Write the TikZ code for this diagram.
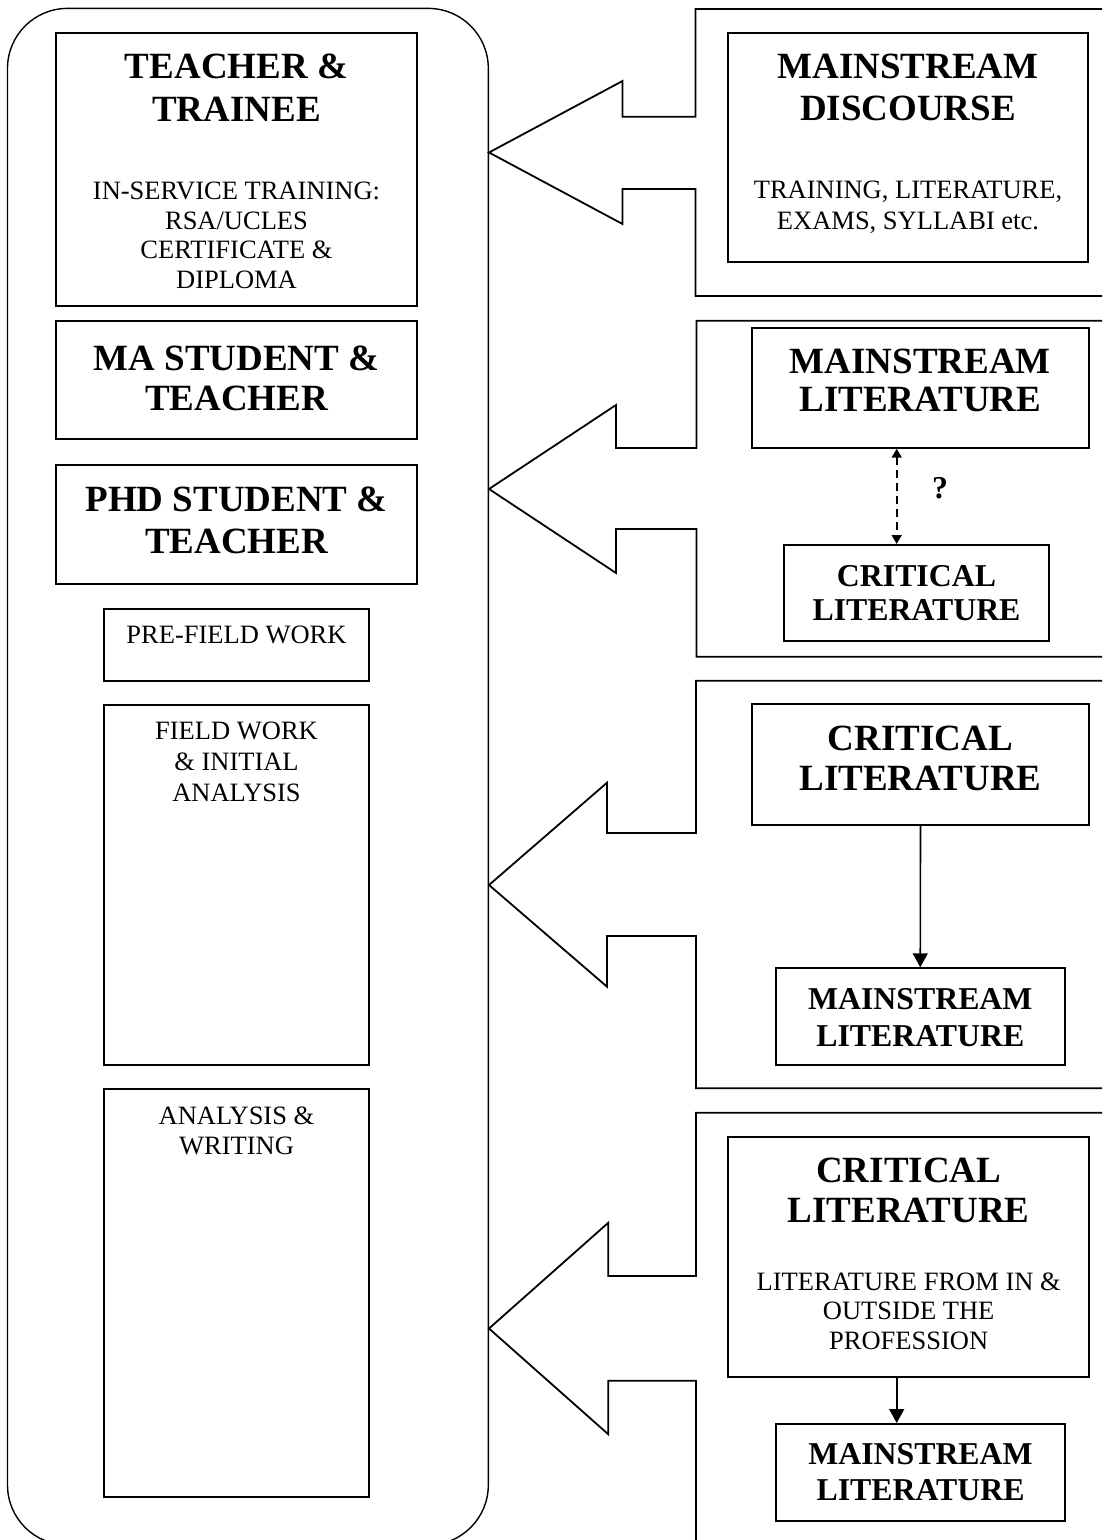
\documentclass[tikz,border=0pt]{standalone}
\usepackage{fontspec}
\setmainfont{Liberation Serif}
\usetikzlibrary{arrows.meta,fit}
\begin{document}
\begin{tikzpicture}[x=0.5pt,y=-0.5pt,
  box/.style={draw, line width=1pt, inner sep=0pt},
  callout/.style={draw, line width=0.9pt, line join=miter},
  bigb/.style={align=center, inner sep=0pt, font=\bfseries\fontsize{18.5pt}{#1}\selectfont},
  bigb/.default=21pt,
  smallb/.style={align=center, inner sep=0pt, font=\bfseries\fontsize{15.9pt}{#1}\selectfont},
  smallb/.default=18pt,
  plain/.style={align=center, inner sep=0pt, font=\fontsize{13.25pt}{#1}\selectfont},
  plain/.default=14.75pt,
  link/.style={line width=0.8pt, -{Triangle[length=7pt,width=7.5pt]}},
  dlink/.style={line width=0.8pt, dash pattern=on 4pt off 2.5pt,
    {Triangle[length=4.5pt,width=5pt]}-{Triangle[length=4.5pt,width=5pt]}}
]
\useasboundingbox (0,0) rectangle (1102,1540);
\clip (0,0) rectangle (1102,1540);

% container
\draw[line width=0.7pt, rounded corners=30pt] (7.5,8.4) rectangle (488.3,1545);

% block arrows
\draw[callout] (1120,9) -- (695.5,9) -- (695.5,116.7) -- (622.5,116.7) -- (622.5,81) -- (489,152.5)
  -- (622.5,224) -- (622.5,189) -- (695.5,189) -- (695.5,296) -- (1120,296);
\draw[callout] (1120,320.7) -- (696.5,320.7) -- (696.5,448) -- (616,448) -- (616,405) -- (489,489)
  -- (616,573) -- (616,529) -- (696.5,529) -- (696.5,656.7) -- (1120,656.7);
\draw[callout] (1120,680.7) -- (696,680.7) -- (696,833) -- (607,833) -- (607,782.7) -- (489,885)
  -- (607,986.7) -- (607,936) -- (696,936) -- (696,1088.3) -- (1120,1088.3);
\draw[callout] (1120,1112.7) -- (696,1112.7) -- (696,1276) -- (608.3,1276) -- (608.3,1222.7) -- (489,1328.5)
  -- (608.3,1434.3) -- (608.3,1380.7) -- (696,1380.7) -- (696,1570);

% left boxes
\node[box, fit={(56,33) (417,306)}] (tt) {};
\node[box, fit={(56,321) (417,439)}] (ma) {};
\node[box, fit={(56,465) (417,584)}] (phd) {};
\node[box, fit={(104,608.6) (369,681)}] (pre) {};
\node[box, fit={(104,705) (369,1065)}] (fw) {};
\node[box, fit={(104,1089) (369,1497)}] (aw) {};

\node[bigb=21.5pt] (ttH) at (236.5,87.5) {TEACHER \&\\TRAINEE};
\node[plain] (ttT) at (236.5,235.2) {IN-SERVICE TRAINING:\\RSA/UCLES\\CERTIFICATE \&\\DIPLOMA};
\node[bigb=20pt] (maT) at (236.5,378) {MA STUDENT \&\\TEACHER};
\node[bigb=21pt] (phdT) at (236.5,520.5) {PHD STUDENT \&\\TEACHER};
\node[plain] (preT) at (236.5,635) {PRE-FIELD WORK};
\node[plain=15.5pt] (fwT) at (236.5,762) {FIELD WORK\\\& INITIAL\\ANALYSIS};
\node[plain=15.25pt] (awT) at (236.5,1131) {ANALYSIS \&\\WRITING};

% right boxes
\node[box, fit={(728,33) (1088,262)}] (md) {};
\node[box, fit={(752,327.7) (1088.7,447.7)}] (ml2) {};
\node[box, fit={(784,545) (1048.7,641)}] (cl2) {};
\node[box, fit={(752.3,704.3) (1088.7,824.7)}] (cl3) {};
\node[box, fit={(776,968.3) (1064.5,1065)}] (ml3) {};
\node[box, fit={(728.3,1136.7) (1089,1376.7)}] (cl4) {};
\node[box, fit={(776,1424) (1065,1521)}] (ml4) {};

\node[bigb=21pt] (mdH) at (908,87.7) {MAINSTREAM\\DISCOURSE};
\node[plain=15.5pt] (mdT) at (908,207) {TRAINING, LITERATURE,\\EXAMS, SYLLABI etc.};
\node[bigb=19pt] (ml2T) at (920.3,380.9) {MAINSTREAM\\LITERATURE};
\node[smallb=17pt] (cl2T) at (916.5,593) {CRITICAL\\LITERATURE};
\node[smallb] (q) at (940,488) {?};
\node[bigb=20pt] (cl3T) at (920.5,758.9) {CRITICAL\\LITERATURE};
\node[smallb=18.5pt] (ml3T) at (920.3,1017.4) {MAINSTREAM\\LITERATURE};
\node[bigb=20pt] (cl4H) at (908.7,1190) {CRITICAL\\LITERATURE};
\node[plain] (cl4T) at (908.7,1311.2) {LITERATURE FROM IN \&\\OUTSIDE THE\\PROFESSION};
\node[smallb=18pt] (ml4T) at (920.5,1472) {MAINSTREAM\\LITERATURE};

% connectors
\coordinate (dx) at (896.7,0);
\draw[dlink] (ml2.south -| dx) -- (cl2.north -| dx);
\draw[link] (cl3.south) -- (ml3.north);
\draw[link] (cl4.south -| dx) -- (ml4.north -| dx);
\end{tikzpicture}
\end{document}
